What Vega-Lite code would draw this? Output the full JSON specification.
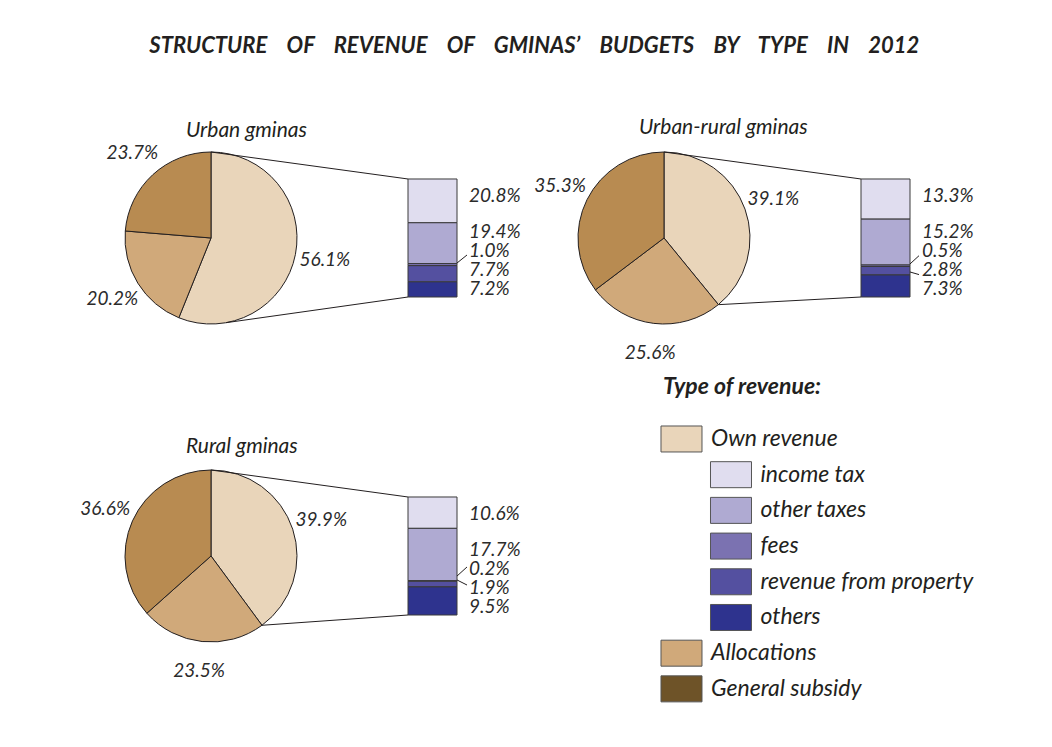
{
  "$schema": "https://vega.github.io/schema/vega-lite/v6.json",
  "padding": {"left": 61, "top": 35, "right": 0, "bottom": 0},
  "background": "white",
  "title": {
    "text": "STRUCTURE\u00a0\u00a0\u00a0 OF\u00a0\u00a0\u00a0 REVENUE\u00a0\u00a0\u00a0 OF\u00a0\u00a0\u00a0 GMINAS’\u00a0\u00a0\u00a0 BUDGETS\u00a0\u00a0\u00a0 BY\u00a0\u00a0\u00a0 TYPE\u00a0\u00a0\u00a0 IN\u00a0\u00a0\u00a0 2012",
    "anchor": "middle", "dx": 17, "offset": 23,
    "font": "Lato", "fontSize": 22, "fontStyle": "italic", "fontWeight": "bold", "color": "#231f20"
  },
  "datasets": {
    "pie": [
      {"gmina": "Urban", "part": "Own revenue", "share": 0.561, "k": 1},
      {"gmina": "Urban", "part": "Allocations", "share": 0.202, "k": 2},
      {"gmina": "Urban", "part": "General subsidy", "share": 0.237, "k": 3},
      {"gmina": "Urban-rural", "part": "Own revenue", "share": 0.391, "k": 1},
      {"gmina": "Urban-rural", "part": "Allocations", "share": 0.256, "k": 2},
      {"gmina": "Urban-rural", "part": "General subsidy", "share": 0.353, "k": 3},
      {"gmina": "Rural", "part": "Own revenue", "share": 0.399, "k": 1},
      {"gmina": "Rural", "part": "Allocations", "share": 0.235, "k": 2},
      {"gmina": "Rural", "part": "General subsidy", "share": 0.366, "k": 3}
    ],
    "bar": [
      {"gmina": "Urban", "part": "income tax", "share": 0.208, "k": 1},
      {"gmina": "Urban", "part": "other taxes", "share": 0.194, "k": 2},
      {"gmina": "Urban", "part": "fees", "share": 0.010, "k": 3},
      {"gmina": "Urban", "part": "revenue from property", "share": 0.077, "k": 4},
      {"gmina": "Urban", "part": "others", "share": 0.072, "k": 5},
      {"gmina": "Urban-rural", "part": "income tax", "share": 0.133, "k": 1},
      {"gmina": "Urban-rural", "part": "other taxes", "share": 0.152, "k": 2},
      {"gmina": "Urban-rural", "part": "fees", "share": 0.005, "k": 3},
      {"gmina": "Urban-rural", "part": "revenue from property", "share": 0.028, "k": 4},
      {"gmina": "Urban-rural", "part": "others", "share": 0.073, "k": 5},
      {"gmina": "Rural", "part": "income tax", "share": 0.106, "k": 1},
      {"gmina": "Rural", "part": "other taxes", "share": 0.177, "k": 2},
      {"gmina": "Rural", "part": "fees", "share": 0.002, "k": 3},
      {"gmina": "Rural", "part": "revenue from property", "share": 0.019, "k": 4},
      {"gmina": "Rural", "part": "others", "share": 0.095, "k": 5}
    ],
    "legend": [
      {"item": "Own revenue", "level": 0},
      {"item": "income tax", "level": 1},
      {"item": "other taxes", "level": 1},
      {"item": "fees", "level": 1},
      {"item": "revenue from property", "level": 1},
      {"item": "others", "level": 1},
      {"item": "Allocations", "level": 0},
      {"item": "General subsidy", "level": 0}
    ]
  },
  "columns": 2,
  "spacing": 0,
  "bounds": "flush",
  "resolve": {"scale": {"x": "independent", "y": "independent"}},
  "concat": [
    {
      "width": 453, "height": 318,
      "data": {"values": [{}]},
      "layer": [
        {
          "layer": [
            {
              "data": {"name": "pie"},
              "transform": [{"filter": "datum.gmina === 'Urban'"}],
              "encoding": {
                "theta": {"field": "share", "type": "quantitative", "stack": true},
                "order": {"field": "k", "type": "quantitative"},
                "x": {"datum": 150, "type": "quantitative", "scale": {"domain": [0, 453], "nice": false, "zero": false}, "axis": null},
                "y": {"datum": 0.5, "type": "quantitative", "scale": {"domain": [-0.8644, 1.8305], "nice": false, "zero": false}, "axis": null}
              },
              "layer": [
                {
                  "mark": {"type": "arc", "radius": 86, "stroke": "#231f20", "strokeWidth": 1},
                  "encoding": {"color": {"field": "part", "type": "nominal", "legend": null,
                    "scale": {"domain": ["Own revenue", "Allocations", "General subsidy", "income tax", "other taxes", "fees", "revenue from property", "others"],
                              "range": ["#E9D5BA", "#D0A97A", "#B88B51", "#E0DDEF", "#AFAAD2", "#7B72B1", "#5450A0", "#2E338E"]}}}
                },
                {
                  "mark": {"type": "text", "radius": 116, "font": "Lato", "fontSize": 19, "fontStyle": "italic", "fill": "#2b2b2b", "align": "center", "baseline": "middle"},
                  "encoding": {"text": {"field": "share", "type": "quantitative", "format": ".1%"}}
                }
              ]
            },
            {
              "data": {"name": "bar"},
              "transform": [
                {"filter": "datum.gmina === 'Urban'"},
                {"stack": "share", "groupby": [], "sort": [{"field": "k", "order": "descending"}], "offset": "normalize", "as": ["y0", "y1"]}
              ],
              "layer": [
                {
                  "mark": {"type": "rect", "stroke": "#3a3a3a", "strokeWidth": 1},
                  "encoding": {
                    "x": {"datum": 347}, "x2": {"datum": 396},
                    "y": {"field": "y0", "type": "quantitative"}, "y2": {"field": "y1"},
                    "color": {"field": "part", "type": "nominal", "legend": null}
                  }
                },
                {
                  "transform": [{"filter": "datum.part === 'income tax'"}],
                  "mark": {"type": "text", "align": "left", "baseline": "middle", "dy": 17, "font": "Lato", "fontSize": 19, "fontStyle": "italic", "fill": "#2b2b2b"},
                  "encoding": {
                    "x": {"datum": 408},
                    "y": {"field": "y1", "type": "quantitative"},
                    "text": {"field": "share", "type": "quantitative", "format": ".1%"}
                  }
                }
              ]
            },
            {
              "mark": {"type": "rule", "stroke": "#231f20", "strokeWidth": 1},
              "encoding": {"x": {"datum": 150}, "y": {"datum": 1.2288}, "x2": {"datum": 347}, "y2": {"datum": 1}}
            },
            {
              "mark": {"type": "rule", "stroke": "#231f20", "strokeWidth": 1},
              "encoding": {"x": {"datum": 165}, "y": {"datum": -0.2177}, "x2": {"datum": 347}, "y2": {"datum": 0}}
            },
            {
              "mark": {"type": "rule", "stroke": "#231f20", "strokeWidth": 1},
              "encoding": {"x": {"datum": 396}, "y": {"datum": 0.288}, "x2": {"datum": 406}, "y2": {"datum": 0.356}}
            },
            {
              "mark": {"type": "text", "align": "left", "baseline": "middle", "font": "Lato", "fontSize": 21, "fontStyle": "italic", "fill": "#231f20"},
              "encoding": {"x": {"datum": 125}, "y": {"datum": 1.41}, "text": {"value": "Urban gminas"}}
            }
          ]
        },
        {
          "data": {"name": "bar"},
          "transform": [{"filter": "datum.gmina === 'Urban' && datum.part !== 'income tax'"}],
          "mark": {"type": "text", "align": "left", "baseline": "middle", "font": "Lato", "fontSize": 19, "fontStyle": "italic", "fill": "#2b2b2b"},
          "encoding": {
            "x": {"datum": 408},
            "y": {"field": "k", "type": "quantitative", "scale": {"domain": [-5.947, 10.789], "reverse": true, "nice": false, "zero": false}, "axis": null},
            "text": {"field": "share", "type": "quantitative", "format": ".1%"}
          }
        }
      ],
      "resolve": {"scale": {"y": "independent"}}
    },
    {
      "width": 453, "height": 318,
      "data": {"values": [{}]},
      "layer": [
        {
          "layer": [
            {
              "data": {"name": "pie"},
              "transform": [{"filter": "datum.gmina === 'Urban-rural'"}],
              "encoding": {
                "theta": {"field": "share", "type": "quantitative", "stack": true},
                "order": {"field": "k", "type": "quantitative"},
                "x": {"datum": 150, "type": "quantitative", "scale": {"domain": [0, 453], "nice": false, "zero": false}, "axis": null},
                "y": {"datum": 0.5, "type": "quantitative", "scale": {"domain": [-0.8644, 1.8305], "nice": false, "zero": false}, "axis": null}
              },
              "layer": [
                {
                  "mark": {"type": "arc", "radius": 86, "stroke": "#231f20", "strokeWidth": 1},
                  "encoding": {"color": {"field": "part", "type": "nominal", "legend": null,
                    "scale": {"domain": ["Own revenue", "Allocations", "General subsidy", "income tax", "other taxes", "fees", "revenue from property", "others"],
                              "range": ["#E9D5BA", "#D0A97A", "#B88B51", "#E0DDEF", "#AFAAD2", "#7B72B1", "#5450A0", "#2E338E"]}}}
                },
                {
                  "mark": {"type": "text", "radius": 116, "font": "Lato", "fontSize": 19, "fontStyle": "italic", "fill": "#2b2b2b", "align": "center", "baseline": "middle"},
                  "encoding": {"text": {"field": "share", "type": "quantitative", "format": ".1%"}}
                }
              ]
            },
            {
              "data": {"name": "bar"},
              "transform": [
                {"filter": "datum.gmina === 'Urban-rural'"},
                {"stack": "share", "groupby": [], "sort": [{"field": "k", "order": "descending"}], "offset": "normalize", "as": ["y0", "y1"]}
              ],
              "layer": [
                {
                  "mark": {"type": "rect", "stroke": "#3a3a3a", "strokeWidth": 1},
                  "encoding": {
                    "x": {"datum": 347}, "x2": {"datum": 396},
                    "y": {"field": "y0", "type": "quantitative"}, "y2": {"field": "y1"},
                    "color": {"field": "part", "type": "nominal", "legend": null}
                  }
                },
                {
                  "transform": [{"filter": "datum.part === 'income tax'"}],
                  "mark": {"type": "text", "align": "left", "baseline": "middle", "dy": 17, "font": "Lato", "fontSize": 19, "fontStyle": "italic", "fill": "#2b2b2b"},
                  "encoding": {
                    "x": {"datum": 408},
                    "y": {"field": "y1", "type": "quantitative"},
                    "text": {"field": "share", "type": "quantitative", "format": ".1%"}
                  }
                }
              ]
            },
            {
              "mark": {"type": "rule", "stroke": "#231f20", "strokeWidth": 1},
              "encoding": {"x": {"datum": 150}, "y": {"datum": 1.2288}, "x2": {"datum": 347}, "y2": {"datum": 1}}
            },
            {
              "mark": {"type": "rule", "stroke": "#231f20", "strokeWidth": 1},
              "encoding": {"x": {"datum": 204.4}, "y": {"datum": -0.065}, "x2": {"datum": 347}, "y2": {"datum": 0}}
            },
            {
              "mark": {"type": "rule", "stroke": "#231f20", "strokeWidth": 1},
              "encoding": {"x": {"datum": 396}, "y": {"datum": 0.28}, "x2": {"datum": 405}, "y2": {"datum": 0.35}}
            },
            {
              "mark": {"type": "rule", "stroke": "#231f20", "strokeWidth": 1},
              "encoding": {"x": {"datum": 396}, "y": {"datum": 0.212}, "x2": {"datum": 405}, "y2": {"datum": 0.19}}
            },
            {
              "mark": {"type": "text", "align": "left", "baseline": "middle", "font": "Lato", "fontSize": 21, "fontStyle": "italic", "fill": "#231f20"},
              "encoding": {"x": {"datum": 125}, "y": {"datum": 1.43}, "text": {"value": "Urban-rural gminas"}}
            }
          ]
        },
        {
          "data": {"name": "bar"},
          "transform": [{"filter": "datum.gmina === 'Urban-rural' && datum.part !== 'income tax'"}],
          "mark": {"type": "text", "align": "left", "baseline": "middle", "font": "Lato", "fontSize": 19, "fontStyle": "italic", "fill": "#2b2b2b"},
          "encoding": {
            "x": {"datum": 408},
            "y": {"field": "k", "type": "quantitative", "scale": {"domain": [-5.947, 10.789], "reverse": true, "nice": false, "zero": false}, "axis": null},
            "text": {"field": "share", "type": "quantitative", "format": ".1%"}
          }
        }
      ],
      "resolve": {"scale": {"y": "independent"}}
    },
    {
      "width": 453, "height": 318,
      "data": {"values": [{}]},
      "layer": [
        {
          "layer": [
            {
              "data": {"name": "pie"},
              "transform": [{"filter": "datum.gmina === 'Rural'"}],
              "encoding": {
                "theta": {"field": "share", "type": "quantitative", "stack": true},
                "order": {"field": "k", "type": "quantitative"},
                "x": {"datum": 150, "type": "quantitative", "scale": {"domain": [0, 453], "nice": false, "zero": false}, "axis": null},
                "y": {"datum": 0.5, "type": "quantitative", "scale": {"domain": [-0.8644, 1.8305], "nice": false, "zero": false}, "axis": null}
              },
              "layer": [
                {
                  "mark": {"type": "arc", "radius": 86, "stroke": "#231f20", "strokeWidth": 1},
                  "encoding": {"color": {"field": "part", "type": "nominal", "legend": null,
                    "scale": {"domain": ["Own revenue", "Allocations", "General subsidy", "income tax", "other taxes", "fees", "revenue from property", "others"],
                              "range": ["#E9D5BA", "#D0A97A", "#B88B51", "#E0DDEF", "#AFAAD2", "#7B72B1", "#5450A0", "#2E338E"]}}}
                },
                {
                  "mark": {"type": "text", "radius": 116, "font": "Lato", "fontSize": 19, "fontStyle": "italic", "fill": "#2b2b2b", "align": "center", "baseline": "middle"},
                  "encoding": {"text": {"field": "share", "type": "quantitative", "format": ".1%"}}
                }
              ]
            },
            {
              "data": {"name": "bar"},
              "transform": [
                {"filter": "datum.gmina === 'Rural'"},
                {"stack": "share", "groupby": [], "sort": [{"field": "k", "order": "descending"}], "offset": "normalize", "as": ["y0", "y1"]}
              ],
              "layer": [
                {
                  "mark": {"type": "rect", "stroke": "#3a3a3a", "strokeWidth": 1},
                  "encoding": {
                    "x": {"datum": 347}, "x2": {"datum": 396},
                    "y": {"field": "y0", "type": "quantitative"}, "y2": {"field": "y1"},
                    "color": {"field": "part", "type": "nominal", "legend": null}
                  }
                },
                {
                  "transform": [{"filter": "datum.part === 'income tax'"}],
                  "mark": {"type": "text", "align": "left", "baseline": "middle", "dy": 17, "font": "Lato", "fontSize": 19, "fontStyle": "italic", "fill": "#2b2b2b"},
                  "encoding": {
                    "x": {"datum": 408},
                    "y": {"field": "y1", "type": "quantitative"},
                    "text": {"field": "share", "type": "quantitative", "format": ".1%"}
                  }
                }
              ]
            },
            {
              "mark": {"type": "rule", "stroke": "#231f20", "strokeWidth": 1},
              "encoding": {"x": {"datum": 150}, "y": {"datum": 1.2288}, "x2": {"datum": 347}, "y2": {"datum": 1}}
            },
            {
              "mark": {"type": "rule", "stroke": "#231f20", "strokeWidth": 1},
              "encoding": {"x": {"datum": 201}, "y": {"datum": -0.087}, "x2": {"datum": 347}, "y2": {"datum": 0}}
            },
            {
              "mark": {"type": "rule", "stroke": "#231f20", "strokeWidth": 1},
              "encoding": {"x": {"datum": 396}, "y": {"datum": 0.33}, "x2": {"datum": 406}, "y2": {"datum": 0.407}}
            },
            {
              "mark": {"type": "rule", "stroke": "#231f20", "strokeWidth": 1},
              "encoding": {"x": {"datum": 396}, "y": {"datum": 0.297}, "x2": {"datum": 406}, "y2": {"datum": 0.254}}
            },
            {
              "mark": {"type": "text", "align": "left", "baseline": "middle", "font": "Lato", "fontSize": 21, "fontStyle": "italic", "fill": "#231f20"},
              "encoding": {"x": {"datum": 125}, "y": {"datum": 1.42}, "text": {"value": "Rural gminas"}}
            }
          ]
        },
        {
          "data": {"name": "bar"},
          "transform": [{"filter": "datum.gmina === 'Rural' && datum.part !== 'income tax'"}],
          "mark": {"type": "text", "align": "left", "baseline": "middle", "font": "Lato", "fontSize": 19, "fontStyle": "italic", "fill": "#2b2b2b"},
          "encoding": {
            "x": {"datum": 408},
            "y": {"field": "k", "type": "quantitative", "scale": {"domain": [-5.947, 10.789], "reverse": true, "nice": false, "zero": false}, "axis": null},
            "text": {"field": "share", "type": "quantitative", "format": ".1%"}
          }
        }
      ],
      "resolve": {"scale": {"y": "independent"}}
    },
    {
      "width": 400, "height": 318,
      "title": {"text": "Type of revenue:", "anchor": "start", "dx": 149, "dy": 23, "offset": 0, "baseline": "bottom",
                "font": "Lato", "fontSize": 23, "fontStyle": "italic", "fontWeight": "bold", "color": "#231f20"},
      "data": {"name": "legend"},
      "encoding": {
        "x": {"field": "level", "type": "quantitative", "scale": {"domain": [-3.3838, 4.697], "nice": false, "zero": false}, "axis": null},
        "y": {"field": "item", "type": "ordinal", "axis": null,
              "scale": {"type": "point", "padding": 0.954, "align": 0.587,
                        "domain": ["Own revenue", "income tax", "other taxes", "fees", "revenue from property", "others", "Allocations", "General subsidy"]}}
      },
      "layer": [
        {
          "mark": {"type": "point", "shape": "M-1,-0.634L1,-0.634L1,0.634L-1,0.634Z", "size": 1681, "filled": true, "opacity": 1, "stroke": "#555555", "strokeWidth": 1},
          "encoding": {"fill": {"field": "item", "type": "nominal", "legend": null,
            "scale": {"domain": ["Own revenue", "income tax", "other taxes", "fees", "revenue from property", "others", "Allocations", "General subsidy"],
                      "range": ["#E9D5BA", "#E0DDEF", "#AFAAD2", "#7B72B1", "#5450A0", "#2E338E", "#D0A97A", "#6E5328"]}}}
        },
        {
          "mark": {"type": "text", "align": "left", "baseline": "middle", "dx": 29.5, "font": "Lato", "fontSize": 23, "fontStyle": "italic", "fill": "#231f20"},
          "encoding": {"text": {"field": "item", "type": "nominal"}}
        }
      ]
    }
  ],
  "config": {"view": {"stroke": null}}
}
